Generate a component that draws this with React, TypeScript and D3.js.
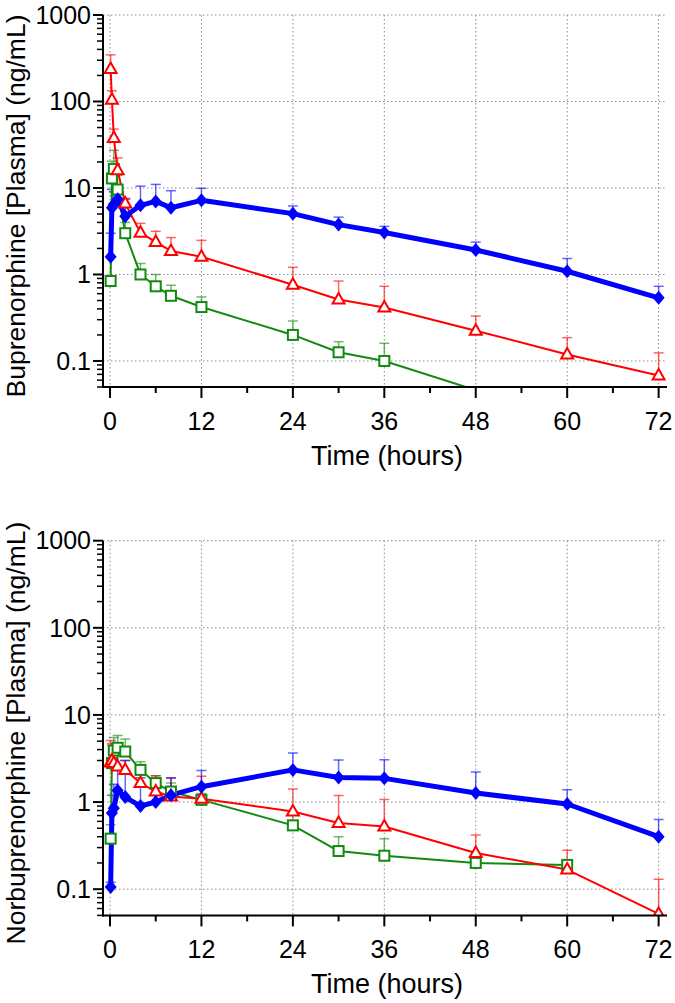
import React from "react";
import * as d3 from "d3";

const times = [0.083, 0.25, 0.5, 1, 2, 4, 6, 8, 12, 24, 30, 36, 48, 60, 72];
const xTicksMajor = [0, 12, 24, 36, 48, 60, 72];
const xTicksMinor = [6, 18, 30, 42, 54, 66];
const yTickLabels = ["0.1", "1", "10", "100", "1000"];
const yDecades = [0.1, 1, 10, 100, 1000];

// Buprenorphine
const buBlue = [1.6, 5.9, 6.5, 7.4, 4.7, 6.3, 7.0, 5.9, 7.2, 5.05, 3.77, 3.05, 1.92, 1.09, 0.537];
const buBlueErr = [3.0, 9.6, 9.0, 8.8, 7.4, 10.5, 11, 9.3, 9.9, 6.2, 4.6, 3.6, 2.37, 1.53, 0.73];
const buRed = [237, 105, 37.9, 16.0, 6.6, 3.04, 2.37, 1.87, 1.6, 0.76, 0.514, 0.416, 0.224, 0.119, 0.068];
const buRedErr = [346, 133, 48, 22.3, 7.6, 3.9, 3.16, 2.67, 2.48, 1.21, 0.84, 0.73, 0.33, 0.186, 0.124];
const buGreen = [0.84, 12.9, 16.6, 9.6, 3.0, 1.0, 0.73, 0.567, 0.42, 0.2, 0.126, 0.1, 0.046, null, null];
const buGreenErr = [0.9, 20.4, 27.3, 14, 4.0, 1.34, 1.0, 0.75, 0.55, 0.29, 0.167, 0.16, null, null, null];

// Norbuprenorphine
const norBlue = [0.106, 0.75, 0.85, 1.36, 1.14, 0.9, 1.0, 1.2, 1.5, 2.34, 1.91, 1.87, 1.27, 0.95, 0.40];
const norBlueErr = [0.12, 1.2, 1.6, 4.5, 3.0, 1.9, 1.5, 1.9, 2.3, 3.65, 3.03, 3.05, 2.21, 1.38, 0.63];
const norRed = [2.85, 3.0, 2.8, 2.56, 2.34, 1.65, 1.32, 1.16, 1.09, 0.78, 0.574, 0.525, 0.26, 0.168, 0.052];
const norRedErr = [5.1, 4.7, 4.3, 3.8, 3.0, 2.3, 2.0, 1.87, 1.98, 1.41, 1.19, 1.07, 0.42, 0.28, 0.13];
const norGreen = [0.38, 2.8, 3.9, 4.2, 3.8, 2.34, 1.65, 1.32, 1.06, 0.54, 0.274, 0.242, 0.2, 0.19, null];
const norGreenErr = [0.55, 4.5, 5.5, 5.8, 5.3, 2.9, 2.0, 1.65, 1.25, 0.75, 0.40, 0.38, 0.23, 0.2, null];

const BLUE = "#0000ff";
const RED = "#ff0000";
const GREEN = "#128a12";
const FONT = "'Liberation Sans', Arial, sans-serif";

type Series = { vals: (number | null)[]; err: (number | null)[]; color: string; kind: string; width: number };

function Marker({ kind, x, y, color }: { kind: string; x: number; y: number; color: string }) {
  if (kind === "diamond") {
    return <path d={`M${x},${y - 7}L${x + 6},${y}L${x},${y + 7}L${x - 6},${y}Z`} fill={color} />;
  }
  if (kind === "triangle") {
    return (
      <path d={`M${x},${y - 6.5}L${x + 6},${y + 4}L${x - 6},${y + 4}Z`} fill="white" stroke={color} strokeWidth={2} />
    );
  }
  return <rect x={x - 5} y={y - 5} width={10} height={10} fill="white" stroke={color} strokeWidth={2} />;
}

function Panel({ top, bottom, title, series, id }: { top: number; bottom: number; title: string; series: Series[]; id: string }) {
  const left = 103;
  const right = 667;
  const x = d3.scaleLinear().domain([-0.92, 73.1]).range([left, right]);
  const y = d3.scaleLog().domain([0.05, 1000]).range([bottom, top]);
  const minor: number[] = [];
  [0.01, 0.1, 1, 10, 100].forEach((d) => {
    for (let k = 2; k <= 9; k++) {
      const v = d * k;
      if (v >= 0.05 && v < 1000) minor.push(v);
    }
  });
  const line = d3
    .line<[number, number | null]>()
    .defined((d) => d[1] != null)
    .x((d) => x(d[0]))
    .y((d) => y(d[1] as number));
  return (
    <g>
      <defs>
        <clipPath id={id}>
          <rect x={left} y={top - 10} width={right - left + 5} height={bottom - top + 10} />
        </clipPath>
      </defs>
      {xTicksMajor.map((t) => (
        <line key={"gx" + t} x1={x(t)} x2={x(t)} y1={top} y2={bottom} stroke="#8a8a8a" strokeWidth={1} strokeDasharray="1.5,2.5" />
      ))}
      {yDecades.map((v) => (
        <line key={"gy" + v} x1={left} x2={right} y1={y(v)} y2={y(v)} stroke="#8a8a8a" strokeWidth={1} strokeDasharray="1.5,2.5" />
      ))}
      <g clipPath={`url(#${id})`}>
        {series.map((s, si) =>
          s.vals.map((v, i) => {
            const e = s.err[i];
            if (v == null || e == null || e <= v) return null;
            const cx = x(times[i]);
            return (
              <g key={`e${si}-${i}`} stroke={s.color} strokeOpacity={0.6} strokeWidth={1.5}>
                <line x1={cx} x2={cx} y1={y(v)} y2={y(e)} />
                <line x1={cx - 5} x2={cx + 5} y1={y(e)} y2={y(e)} />
              </g>
            );
          })
        )}
        {series.map((s, si) => (
          <path
            key={"l" + si}
            d={line(times.map((t, i) => [t, s.vals[i]] as [number, number | null])) || ""}
            fill="none"
            stroke={s.color}
            strokeWidth={s.width}
            strokeLinejoin="round"
          />
        ))}
        {series.map((s, si) =>
          s.vals.map((v, i) =>
            v == null || v < 0.05 ? null : <Marker key={`m${si}-${i}`} kind={s.kind} x={x(times[i])} y={y(v)} color={s.color} />
          )
        )}
      </g>
      <line x1={left} x2={left} y1={top} y2={bottom + 1} stroke="black" strokeWidth={2} />
      <line x1={left - 1} x2={right} y1={bottom} y2={bottom} stroke="black" strokeWidth={2} />
      {yDecades.map((v, i) => (
        <g key={"yt" + v}>
          <line x1={left - 10} x2={left} y1={y(v)} y2={y(v)} stroke="black" strokeWidth={2} />
          <text x={left - 12} y={y(v)} dy="0.35em" textAnchor="end" fontSize={25} fontFamily={FONT}>
            {yTickLabels[i]}
          </text>
        </g>
      ))}
      {minor.map((v) => (
        <line key={"ym" + v} x1={left - 6} x2={left} y1={y(v)} y2={y(v)} stroke="black" strokeWidth={1.5} />
      ))}
      {xTicksMajor.map((t) => (
        <g key={"xt" + t}>
          <line x1={x(t)} x2={x(t)} y1={bottom} y2={bottom + 11} stroke="black" strokeWidth={2} />
          <text x={x(t)} y={bottom + 43} textAnchor="middle" fontSize={25} fontFamily={FONT}>
            {t}
          </text>
        </g>
      ))}
      {xTicksMinor.map((t) => (
        <line key={"xm" + t} x1={x(t)} x2={x(t)} y1={bottom} y2={bottom + 6} stroke="black" strokeWidth={2} />
      ))}
      <text x={(left + right) / 2 + 2} y={bottom + 78} textAnchor="middle" fontSize={27} fontFamily={FONT}>
        Time (hours)
      </text>
      <text
        transform={`translate(25,${(top + bottom) / 2 + 5}) rotate(-90)`}
        textAnchor="middle"
        fontSize={26.5}
        fontFamily={FONT}
      >
        {title}
      </text>
    </g>
  );
}

export default function App() {
  const topSeries: Series[] = [
    { vals: buGreen, err: buGreenErr, color: GREEN, kind: "square", width: 2 },
    { vals: buRed, err: buRedErr, color: RED, kind: "triangle", width: 2 },
    { vals: buBlue, err: buBlueErr, color: BLUE, kind: "diamond", width: 5 },
  ];
  const botSeries: Series[] = [
    { vals: norGreen, err: norGreenErr, color: GREEN, kind: "square", width: 2 },
    { vals: norRed, err: norRedErr, color: RED, kind: "triangle", width: 2 },
    { vals: norBlue, err: norBlueErr, color: BLUE, kind: "diamond", width: 5 },
  ];
  return (
    <svg width={675} height={1003} style={{ position: "absolute", left: 0, top: 0, background: "white" }}>
      <rect width={675} height={1003} fill="white" />
      <Panel id="c1" top={15} bottom={387} title="Buprenorphine [Plasma] (ng/mL)" series={topSeries} />
      <Panel id="c2" top={540.7} bottom={915.4} title="Norbuprenorphine [Plasma] (ng/mL)" series={botSeries} />
    </svg>
  );
}
